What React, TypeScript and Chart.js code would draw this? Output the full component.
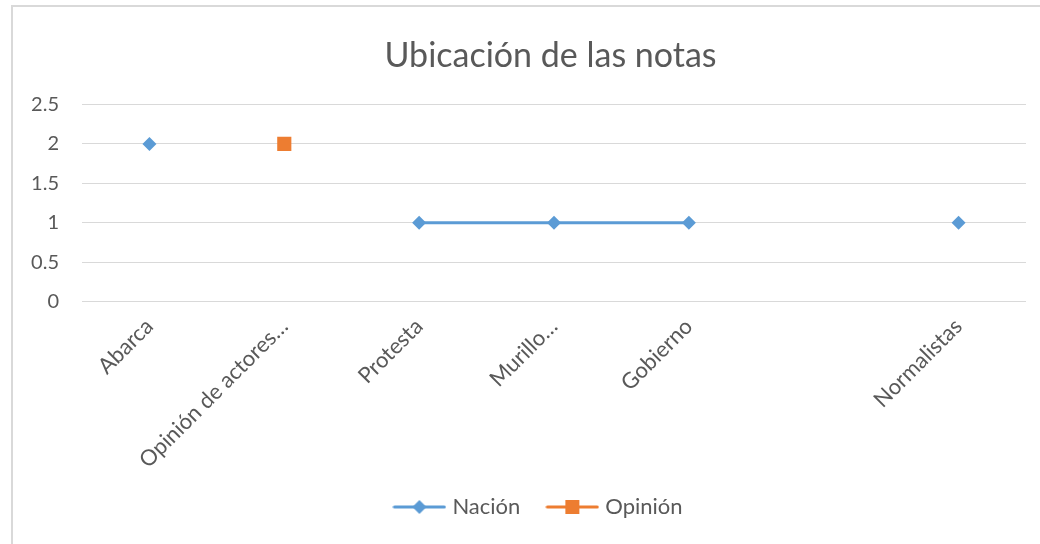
import React, { useEffect, useRef } from "react";
import { Chart, registerables } from "chart.js";

Chart.register(...registerables);

const chartTitle = "Ubicación de las notas";
const categories = ["Abarca", "Opinión de actores…", "Protesta", "Murillo…", "Gobierno", "", "Normalistas"];
const seriesNames = ["Nación", "Opinión"];
const nacionValues: (number | null)[] = [2, null, 1, 1, 1, null, 1];
const opinionValues: (number | null)[] = [null, 2, null, null, null, null, null];
const yMin = 0;
const yMax = 2.5;
const yStep = 0.5;

const BLUE = "#5B9BD5";
const ORANGE = "#ED7D31";
const TEXT = "#595959";
const GRID = "#D9D9D9";
const FONT = "Lato, 'Open Sans', sans-serif";

const LEGEND_SHIFT = 27;
const TITLE_SHIFT = -3.5;

function makeLegendIcon(color: string, shape: "diamond" | "square") {
  const c = document.createElement("canvas");
  c.width = 54;
  c.height = 16;
  const ctx = c.getContext("2d")!;
  ctx.strokeStyle = color;
  ctx.lineWidth = 3;
  ctx.lineCap = "round";
  ctx.beginPath();
  ctx.moveTo(2, 8);
  ctx.lineTo(52, 8);
  ctx.stroke();
  ctx.fillStyle = color;
  if (shape === "diamond") {
    ctx.beginPath();
    ctx.moveTo(27 - 7, 8);
    ctx.lineTo(27, 1);
    ctx.lineTo(27 + 7, 8);
    ctx.lineTo(27, 15);
    ctx.closePath();
    ctx.fill();
  } else {
    ctx.fillRect(27 - 7, 1, 14, 14);
  }
  return c;
}

const frame = {
  id: "frame",
  afterLayout(chart: any) {
    const lg = chart.legend;
    if (lg) {
      lg.left += LEGEND_SHIFT;
      lg.right += LEGEND_SHIFT;
    }
    const t = chart.titleBlock;
    if (t) {
      t.left += TITLE_SHIFT;
      t.right += TITLE_SHIFT;
    }
  },
  beforeDraw(chart: any) {
    const ctx = chart.ctx;
    ctx.save();
    ctx.fillStyle = "#ffffff";
    ctx.fillRect(0, 0, chart.width, chart.height);
    ctx.strokeStyle = GRID;
    ctx.lineWidth = 2;
    ctx.strokeRect(12, 6, 2000, 2000);
    ctx.restore();
  },
};

export default function App() {
  const ref = useRef<HTMLCanvasElement | null>(null);

  useEffect(() => {
    if (!ref.current) return;
    const icons = [makeLegendIcon(BLUE, "diamond"), makeLegendIcon(ORANGE, "square")];
    const chart = new Chart(ref.current, {
      type: "line",
      data: {
        labels: categories,
        datasets: [
          {
            label: seriesNames[0],
            data: nacionValues,
            borderColor: BLUE,
            backgroundColor: BLUE,
            borderWidth: 3,
            pointStyle: "rectRot",
            pointRadius: 7,
            pointBorderWidth: 0,
            pointBackgroundColor: BLUE,
            spanGaps: false,
          },
          {
            label: seriesNames[1],
            data: opinionValues,
            borderColor: ORANGE,
            backgroundColor: ORANGE,
            borderWidth: 3,
            pointStyle: "rect",
            pointRadius: 10,
            pointBorderWidth: 0,
            pointBackgroundColor: ORANGE,
            spanGaps: false,
          },
        ],
      },
      plugins: [frame],
      options: {
        responsive: false,
        animation: false,
        devicePixelRatio: 1,
        layout: { padding: { left: 0, right: 14, top: 0, bottom: 16 } },
        plugins: {
          title: {
            display: true,
            text: chartTitle,
            fullSize: false,
            color: TEXT,
            font: { family: FONT, size: 34, weight: "normal", lineHeight: 1.2 },
            padding: { top: 36, bottom: 27.7 },
          },
          legend: {
            position: "bottom",
            labels: {
              usePointStyle: true,
              pointStyleWidth: 44,
              padding: 30,
              color: TEXT,
              font: { family: FONT, size: 22 },
              generateLabels: (c: any) =>
                c.data.datasets.map((ds: any, i: number) => ({
                  text: ds.label,
                  pointStyle: icons[i],
                  fillStyle: "transparent",
                  strokeStyle: "transparent",
                  lineWidth: 0,
                  hidden: false,
                  datasetIndex: i,
                  fontColor: TEXT,
                })),
            },
          },
          tooltip: { enabled: false },
        },
        scales: {
          x: {
            offset: true,
            grid: { display: false },
            border: { display: false },
            ticks: {
              autoSkip: false,
              minRotation: 45,
              maxRotation: 45,
              color: TEXT,
              font: { family: FONT, size: 22 },
              padding: 4,
            },
            afterFit: (s: any) => {
              s.height = 164.5;
            },
          },
          y: {
            min: yMin,
            max: yMax,
            grid: { color: GRID, lineWidth: 1, drawTicks: false },
            border: { display: false },
            ticks: {
              stepSize: yStep,
              color: TEXT,
              font: { family: FONT, size: 20 },
              padding: 23,
              callback: (v: any) => String(Number(v)),
            },
            afterFit: (s: any) => {
              s.width = 82;
            },
          },
        },
      },
    });
    return () => chart.destroy();
  }, []);

  return (
    <div style={{ position: "fixed", left: 0, top: 0, width: 1040, height: 544, overflow: "hidden", background: "#fff" }}>
      <canvas ref={ref} width={1040} height={544} />
    </div>
  );
}
